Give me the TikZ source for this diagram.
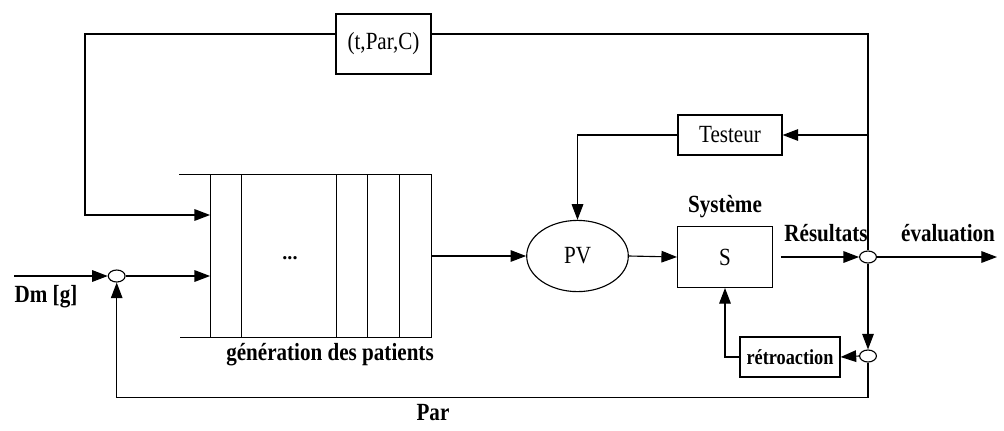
\documentclass[tikz,border=0pt]{standalone}
\usepackage{fontspec}
\setmainfont{Liberation Serif}
\usetikzlibrary{arrows.meta, positioning, shapes.geometric}

\newcommand{\vstr}[1]{\scalebox{1}[1.17]{#1}}

\begin{document}
\begin{tikzpicture}[x=0.025cm, y=-0.025cm, line width=0.8pt,
    >={Triangle[length=3.9mm, width=2.9mm]},
    font=\fontsize{15}{17}\selectfont,
    block/.style={draw, inner sep=0pt},
    sum/.style={draw, ellipse, minimum width=0.42cm, minimum height=0.3cm, inner sep=0pt},
    lbl/.style={font=\fontsize{15}{17}\selectfont\bfseries}]
  \useasboundingbox (0,0) rectangle (1004,430);

  % blocs
  \node [block, minimum width=2.375cm, minimum height=1.5cm] (tpc) at (383.5,44) {\vstr{(t,Par,C)}};
  \node [block, minimum width=2.6cm, minimum height=1cm] (tst) at (730,135) {\vstr{Testeur}};
  \node [draw, ellipse, minimum width=2.54cm, minimum height=1.78cm, inner sep=0pt] (PV) at (577.5,256) {\vstr{PV}};
  \node [block, minimum width=2.37cm, minimum height=1.52cm] (S) at (725,257) {\vstr{S}};
  \node [block, minimum width=2.5cm, minimum height=1cm, font=\fontsize{13}{15}\selectfont\bfseries] (ret) at (790,357) {\vstr{rétroaction}};

  % file des patients
  \node [minimum width=5.51cm, minimum height=4.04cm, inner sep=0pt] (queue) at (320.85,256) {};
  \draw (queue.north west) ++(-31,0) -- (queue.north east) -- (queue.south east) -- ++(-252,0);
  \foreach \x in {0,31,126,157,189}
    \draw (queue.north west) ++(\x,0) -- ++(0,162);
  \node [lbl] (dots) at (290,258) {\Large ...};

  % jonctions
  \node [sum] (j1) at (116.7,276) {};
  \node [sum] (j2) at (868,257) {};
  \node [sum] (j3) at (868,356) {};

  \coordinate (tl) at (85,34);
  \coordinate (tr) at (868,34);
  \coordinate (dm) at (14,276);
  \coordinate (ev) at (997,257);

  % textes
  \node [lbl] (dmlbl) at (46,297) {\vstr{Dm [g]}};
  \node [lbl] (genlbl) at (330,355) {\vstr{génération des patients}};
  \node [lbl] (parlbl) at (433,413) {\vstr{Par}};
  \node [lbl] (syslbl) at (725,207) {\vstr{Système}};
  \node [lbl] (reslbl) at (826,233) {\vstr{Résultats}};
  \node [lbl] (evlbl) at (948,233) {\vstr{évaluation}};

  % liaisons
  \draw [->] (tpc.west |- tl) -- (tl) |- ([yshift=1.025cm]queue.west);
  \draw (tpc.east |- tr) -- (tr) -- (j2.north);
  \draw [->] (tst.east -| tr) -- (tst.east);
  \draw [->] (tst.west) -| (PV.north);
  \draw [->] (dm) -- (j1.west);
  \draw [->] (j1.east) -- (j1.east -| queue.west);
  \draw [->] (queue.east) -- (PV.west);
  \draw [->] (PV.east) -- (S.west);
  \draw [->, shorten <=0.2cm] (S.east) -- (j2.west);
  \draw [->] (j2.east) -- (ev);
  \draw [->] (j2.south) -- (j3.north);
  \draw [->] (j3.west) -- (ret.east);
  \draw [->] (ret.west) -| (S.south);
  \draw [->] (j3.south) -- ++(0,35) -| (j1.south);
\end{tikzpicture}
\end{document}
